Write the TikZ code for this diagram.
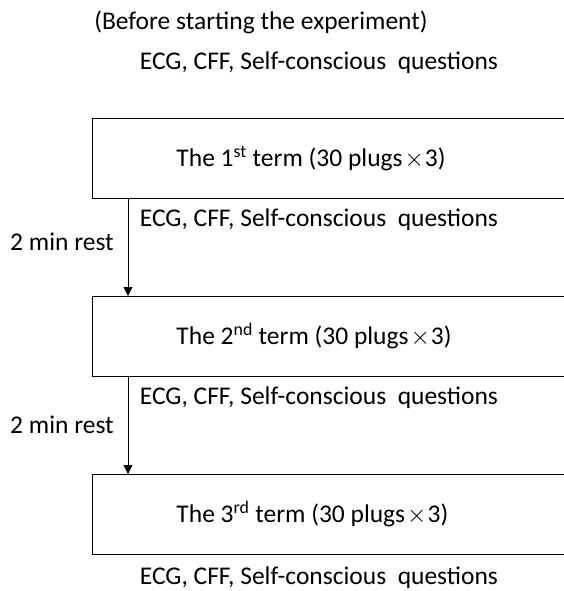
\documentclass[tikz,border=0pt]{standalone}
\usepackage{fontspec}
\setmainfont{Carlito}
\usetikzlibrary{arrows.meta}

\begin{document}
\begin{tikzpicture}[x=1pt,y=-1pt,
  every node/.style={font=\fontsize{25.5}{30}\selectfont,inner sep=0pt},
  term/.style={draw,line width=0.9pt,anchor=north west,minimum height=80pt,
    text width=340pt,inner xsep=84pt,align=flush left},
  flow/.style={-{Triangle[width=9pt,length=9pt]},line width=0.8pt}]
\useasboundingbox (0,0) rectangle (564,591);
\clip (0,0) rectangle (564,591);

\node (pre) at (261,22) {(Before starting the experiment)};
\node (meas0) at (319,63) {ECG, CFF, Self-conscious~ questions};

\node[term] (term1) at (92,118) {The 1\textsuperscript{st} term (30 plugs\kern2pt$\times$\kern1pt3)};
\node[term] (term2) at (92,296) {The 2\textsuperscript{nd} term (30 plugs\kern2pt$\times$\kern1pt3)};
\node[term] (term3) at (92,474) {The 3\textsuperscript{rd} term (30 plugs\kern2pt$\times$\kern1pt3)};

\node (meas1) at (319,220) {ECG, CFF, Self-conscious~ questions};
\node (meas2) at (319,398) {ECG, CFF, Self-conscious~ questions};
\node (meas3) at (319,578) {ECG, CFF, Self-conscious~ questions};

\node (rest1) at (62,242) {2 min rest};
\node (rest2) at (62,425) {2 min rest};

\draw[flow] ([xshift=36pt]term1.south west) -- ([xshift=36pt]term2.north west);
\draw[flow] ([xshift=36pt]term2.south west) -- ([xshift=36pt]term3.north west);
\end{tikzpicture}
\end{document}
